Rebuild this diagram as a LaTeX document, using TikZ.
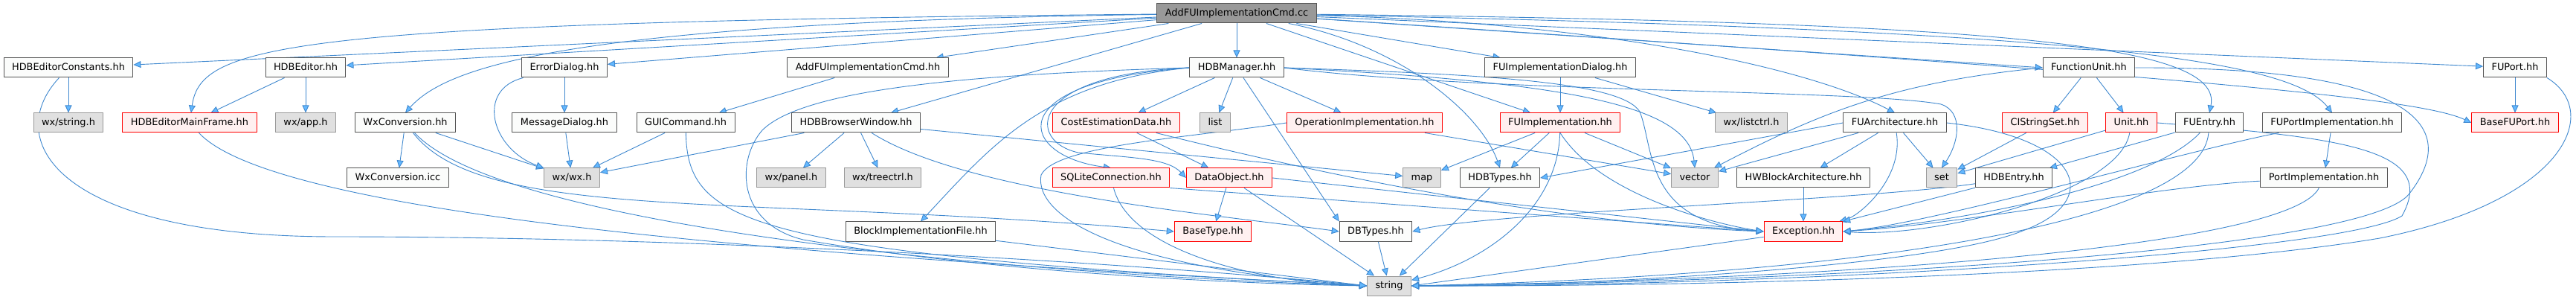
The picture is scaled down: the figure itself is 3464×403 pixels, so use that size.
\documentclass[tikz,border=0pt]{standalone}
\usepackage{fontspec}
\setmainfont{DejaVu Sans}
\usepackage{tikz}
\usetikzlibrary{arrows.meta}
\definecolor{edgeblue}{HTML}{3F88CF}
\definecolor{tipblue}{HTML}{63B8FF}
\definecolor{boxgray}{HTML}{555555}
\definecolor{plainfill}{HTML}{FBFCFB}
\definecolor{sysgray}{HTML}{999999}
\definecolor{sysfill}{HTML}{E0E0E0}
\definecolor{truncred}{HTML}{FF0000}
\definecolor{truncfill}{HTML}{FFF0F0}
\definecolor{rootfill}{HTML}{999999}
\pgfdeclarelayer{edges}
\pgfsetlayers{edges,main}

\begin{document}
\begin{tikzpicture}[
  x=1pt, y=-1pt,
  file/.style={
    draw=boxgray, fill=plainfill, line width=1pt,
    minimum height=26pt, inner xsep=11pt, inner ysep=0pt,
    text height=9.6pt, text depth=3pt, font=\fontsize{12.9pt}{15pt}\selectfont
  },
  sys/.style={file, draw=sysgray, fill=sysfill},
  part/.style={file, draw=truncred, fill=truncfill},
  rootfile/.style={file, fill=rootfill},
  arrow/.style={-{Triangle[length=10pt,width=9pt,fill=tipblue]}, draw=edgeblue, line width=0.9pt}
]
  \node[rootfile] (root) at (1663,18) {AddFUImplementationCmd.cc};

  \node[file] (edconst) at (92,91) {HDBEditorConstants.hh};
  \node[file] (editor) at (411,91) {HDBEditor.hh};
  \node[file] (errdlg) at (759,91) {ErrorDialog.hh};
  \node[file] (addcmd) at (1167,91) {AddFUImplementationCmd.hh};
  \node[file] (manager) at (1663,91) {HDBManager.hh};
  \node[file] (impldlg) at (2098,91) {FUImplementationDialog.hh};
  \node[file] (funit) at (2809,91) {FunctionUnit.hh};
  \node[file] (fuport) at (3382,91) {FUPort.hh};

  \node[sys] (wxstring) at (92,165) {wx/string.h};
  \node[part] (mainframe) at (255,165) {HDBEditorMainFrame.hh};
  \node[sys] (wxapp) at (411,165) {wx/app.h};
  \node[file] (wxconv) at (545,165) {WxConversion.hh};
  \node[file] (msgdlg) at (759,165) {MessageDialog.hh};
  \node[file] (guicmd) at (922,165) {GUICommand.hh};
  \node[file] (browser) at (1151,165) {HDBBrowserWindow.hh};
  \node[part] (costdata) at (1501,165) {CostEstimationData.hh};
  \node[sys] (stdlist) at (1634,165) {list};
  \node[part] (opimpl) at (1835,165) {OperationImplementation.hh};
  \node[part] (fuimpl) at (2098,165) {FUImplementation.hh};
  \node[sys] (wxlist) at (2355,165) {wx/listctrl.h};
  \node[file] (fuarch) at (2548,165) {FUArchitecture.hh};
  \node[part] (cistr) at (2750,165) {CIStringSet.hh};
  \node[part] (unit) at (2866,165) {Unit.hh};
  \node[file] (fuentry) at (2971,165) {FUEntry.hh};
  \node[file] (fuportimpl) at (3136,165) {FUPortImplementation.hh};
  \node[part] (basefuport) at (3382,165) {BaseFUPort.hh};

  \node[file] (wxconvicc) at (535,239) {WxConversion.icc};
  \node[sys] (wxwx) at (769,239) {wx/wx.h};
  \node[sys] (wxpanel) at (1064,239) {wx/panel.h};
  \node[sys] (wxtree) at (1187,239) {wx/treectrl.h};
  \node[part] (sqlite) at (1494,239) {SQLiteConnection.hh};
  \node[part] (dataobj) at (1653,239) {DataObject.hh};
  \node[sys] (stdmap) at (1912,239) {map};
  \node[file] (hdbtypes) at (2017,239) {HDBTypes.hh};
  \node[sys] (stdvector) at (2279,239) {vector};
  \node[file] (hwblock) at (2425,239) {HWBlockArchitecture.hh};
  \node[sys] (stdset) at (2611,239) {set};
  \node[file] (hdbentry) at (2708,239) {HDBEntry.hh};
  \node[file] (portimpl) at (3125,239) {PortImplementation.hh};

  \node[file] (blockfile) at (1238,311) {BlockImplementationFile.hh};
  \node[part] (basetype) at (1631,311) {BaseType.hh};
  \node[file] (dbtypes) at (1850,311) {DBTypes.hh};
  \node[part] (exception) at (2425,311) {Exception.hh};

  \node[sys] (stdstring) at (1868,384) {string};

  \begin{pgfonlayer}{edges}
  \path[use as bounding box, fill=white] (0,0) rectangle (3464,403);

  \draw[arrow] (root) -- (edconst);
  \draw[arrow] (root) .. controls (380,30) and (270,60) .. (mainframe);
  \draw[arrow] (root) -- (editor);
  \draw[arrow] (root) .. controls (760,30) and (600,90) .. (wxconv.north);
  \draw[arrow] (root) -- (errdlg);
  \draw[arrow] (root) -- (addcmd);
  \draw[arrow] (root) -- (browser);
  \draw[arrow] (root) -- (manager);
  \draw[arrow] (root) -- (impldlg);
  \draw[arrow] (root) -- (fuimpl);
  \draw[arrow] (root) .. controls (1880,60) and (1990,150) .. (hdbtypes.north);
  \draw[arrow] (root) .. controls (2150,30) and (2430,90) .. (fuarch.north);
  \draw[arrow] (root) -- (funit.west);
  \draw[arrow] (root) .. controls (2700,30) and (2990,60) .. (fuentry.north);
  \draw[arrow] (root) .. controls (2800,40) and (3080,80) .. (fuportimpl.north);
  \draw[arrow] (root) -- (fuport);
  \draw[arrow] (root) .. controls (2900,100) and (3250,130) .. (basefuport.west);

  \draw[arrow] (edconst) -- (wxstring);
  \draw[arrow] (edconst) .. controls (0,190) and (80,318) .. (450,318) .. controls (1000,318) and (1600,360) .. (stdstring.west);
  \draw[arrow] (editor) -- (mainframe);
  \draw[arrow] (editor) -- (wxapp);
  \draw[arrow] (mainframe) .. controls (380,300) and (1200,350) .. (stdstring.west);
  \draw[arrow] (wxconv) -- (wxconvicc);
  \draw[arrow] (wxconv) -- (wxwx);
  \draw[arrow] (wxconv) .. controls (680,310) and (1400,370) .. (stdstring.west);
  \draw[arrow] (wxconv) .. controls (650,300) and (1000,260) .. (basetype.west);
  \draw[arrow] (errdlg) -- (msgdlg);
  \draw[arrow] (errdlg) .. controls (640,120) and (660,200) .. (wxwx);
  \draw[arrow] (msgdlg) -- (wxwx);
  \draw[arrow] (addcmd) -- (guicmd);
  \draw[arrow] (guicmd) -- (wxwx);
  \draw[arrow] (guicmd) .. controls (925,300) and (1000,340) .. (stdstring.west);
  \draw[arrow] (browser) -- (wxwx);
  \draw[arrow] (browser) -- (wxpanel);
  \draw[arrow] (browser) -- (wxtree);
  \draw[arrow] (browser) -- (stdmap);
  \draw[arrow] (browser) .. controls (1300,260) and (1650,290) .. (dbtypes.west);

  \draw[arrow] (manager) -- (costdata);
  \draw[arrow] (manager) -- (stdlist);
  \draw[arrow] (manager) -- (opimpl);
  \draw[arrow] (manager) -- (dbtypes.north west);
  \draw[arrow] (manager.west) .. controls (1400,110) and (1330,200) .. (blockfile.north);
  \draw[arrow] (manager.west) .. controls (1340,110) and (1370,210) .. (sqlite.north);
  \draw[arrow] (manager.west) .. controls (1380,100) and (1380,190) .. (1450,205) .. controls (1520,212) and (1570,212) .. (dataobj.west);
  \draw[arrow] (manager.west) .. controls (1300,100) and (1080,120) .. (1025,175) .. controls (990,215) and (990,300) .. (1080,322) .. controls (1300,360) and (1600,380) .. (stdstring.west);
  \draw[arrow] (manager.east) .. controls (2100,110) and (2270,140) .. (stdvector.north);
  \draw[arrow] (manager.east) .. controls (2000,125) and (2500,120) .. (2610,140) .. controls (2640,150) and (2635,190) .. (stdset.north);
  \draw[arrow] (manager.east) .. controls (2000,100) and (2180,110) .. (2205,150) .. controls (2225,200) and (2210,300) .. (exception.west);

  \draw[arrow] (opimpl) -- (stdvector);
  \draw[arrow] (opimpl.west) .. controls (1600,185) and (1420,195) .. (1400,235) .. controls (1390,290) and (1500,360) .. (stdstring.west);
  \draw[arrow] (costdata) -- (dataobj);
  \draw[arrow] (costdata) .. controls (1800,240) and (2100,300) .. (exception.west);
  \draw[arrow] (sqlite.south east) -- (exception.west);
  \draw[arrow] (sqlite) .. controls (1520,340) and (1700,380) .. (stdstring.west);
  \draw[arrow] (dataobj) -- (basetype);
  \draw[arrow] (dataobj) -- (stdstring);
  \draw[arrow] (dataobj.east) -- (exception.west);
  \draw[arrow] (blockfile) -- (stdstring.west);
  \draw[arrow] (dbtypes) -- (stdstring);
  \draw[arrow] (hdbtypes) -- (stdstring);
  \draw[arrow] (exception) -- (stdstring.east);

  \draw[arrow] (impldlg) -- (fuimpl);
  \draw[arrow] (impldlg) -- (wxlist);
  \draw[arrow] (fuimpl) -- (stdmap);
  \draw[arrow] (fuimpl) -- (hdbtypes);
  \draw[arrow] (fuimpl) -- (stdvector);
  \draw[arrow] (fuimpl) .. controls (2095,280) and (2000,350) .. (stdstring);
  \draw[arrow] (fuimpl.south) .. controls (2150,260) and (2300,300) .. (exception.west);

  \draw[arrow] (fuarch) -- (hwblock);
  \draw[arrow] (fuarch) -- (stdset);
  \draw[arrow] (fuarch) -- (stdvector);
  \draw[arrow] (fuarch.west) -- (hdbtypes.east);
  \draw[arrow] (fuarch) .. controls (2560,240) and (2500,290) .. (exception);
  \draw[arrow] (fuarch.east) .. controls (2800,185) and (2830,270) .. (2720,310) .. controls (2600,360) and (2100,385) .. (stdstring.east);
  \draw[arrow] (hwblock) -- (exception);

  \draw[arrow] (funit) -- (cistr);
  \draw[arrow] (funit) -- (unit);
  \draw[arrow] (funit.west) .. controls (2550,110) and (2450,150) .. (stdvector);
  \draw[arrow] (funit.east) .. controls (3250,90) and (3310,170) .. (3240,260) .. controls (3180,340) and (2400,380) .. (stdstring.east);
  \draw[arrow] (cistr) -- (stdset);
  \draw[arrow] (unit) -- (stdset);
  \draw[arrow] (unit) .. controls (2850,260) and (2600,320) .. (exception.east);
  \draw[arrow] (unit.east) .. controls (3150,185) and (3280,200) .. (3230,290) .. controls (3150,340) and (2400,385) .. (stdstring.east);

  \draw[arrow] (fuentry) -- (hdbentry);
  \draw[arrow] (fuentry) .. controls (2900,240) and (2700,290) .. (exception.east);
  \draw[arrow] (fuentry) .. controls (2960,300) and (2500,370) .. (stdstring.east);
  \draw[arrow] (hdbentry) -- (exception);
  \draw[arrow] (hdbentry) .. controls (2500,270) and (2000,285) .. (dbtypes.east);

  \draw[arrow] (fuportimpl) -- (portimpl);
  \draw[arrow] (fuportimpl) .. controls (2950,200) and (2600,300) .. (exception.east);
  \draw[arrow] (portimpl) .. controls (2900,250) and (2650,300) .. (exception.east);
  \draw[arrow] (portimpl) .. controls (3080,330) and (2500,375) .. (stdstring.east);
  \draw[arrow] (fuport) -- (basefuport);
  \draw[arrow] (fuport.south east) .. controls (3500,150) and (3450,270) .. (3200,320) .. controls (2900,370) and (2300,385) .. (stdstring.east);
  \end{pgfonlayer}
\end{tikzpicture}
\end{document}
